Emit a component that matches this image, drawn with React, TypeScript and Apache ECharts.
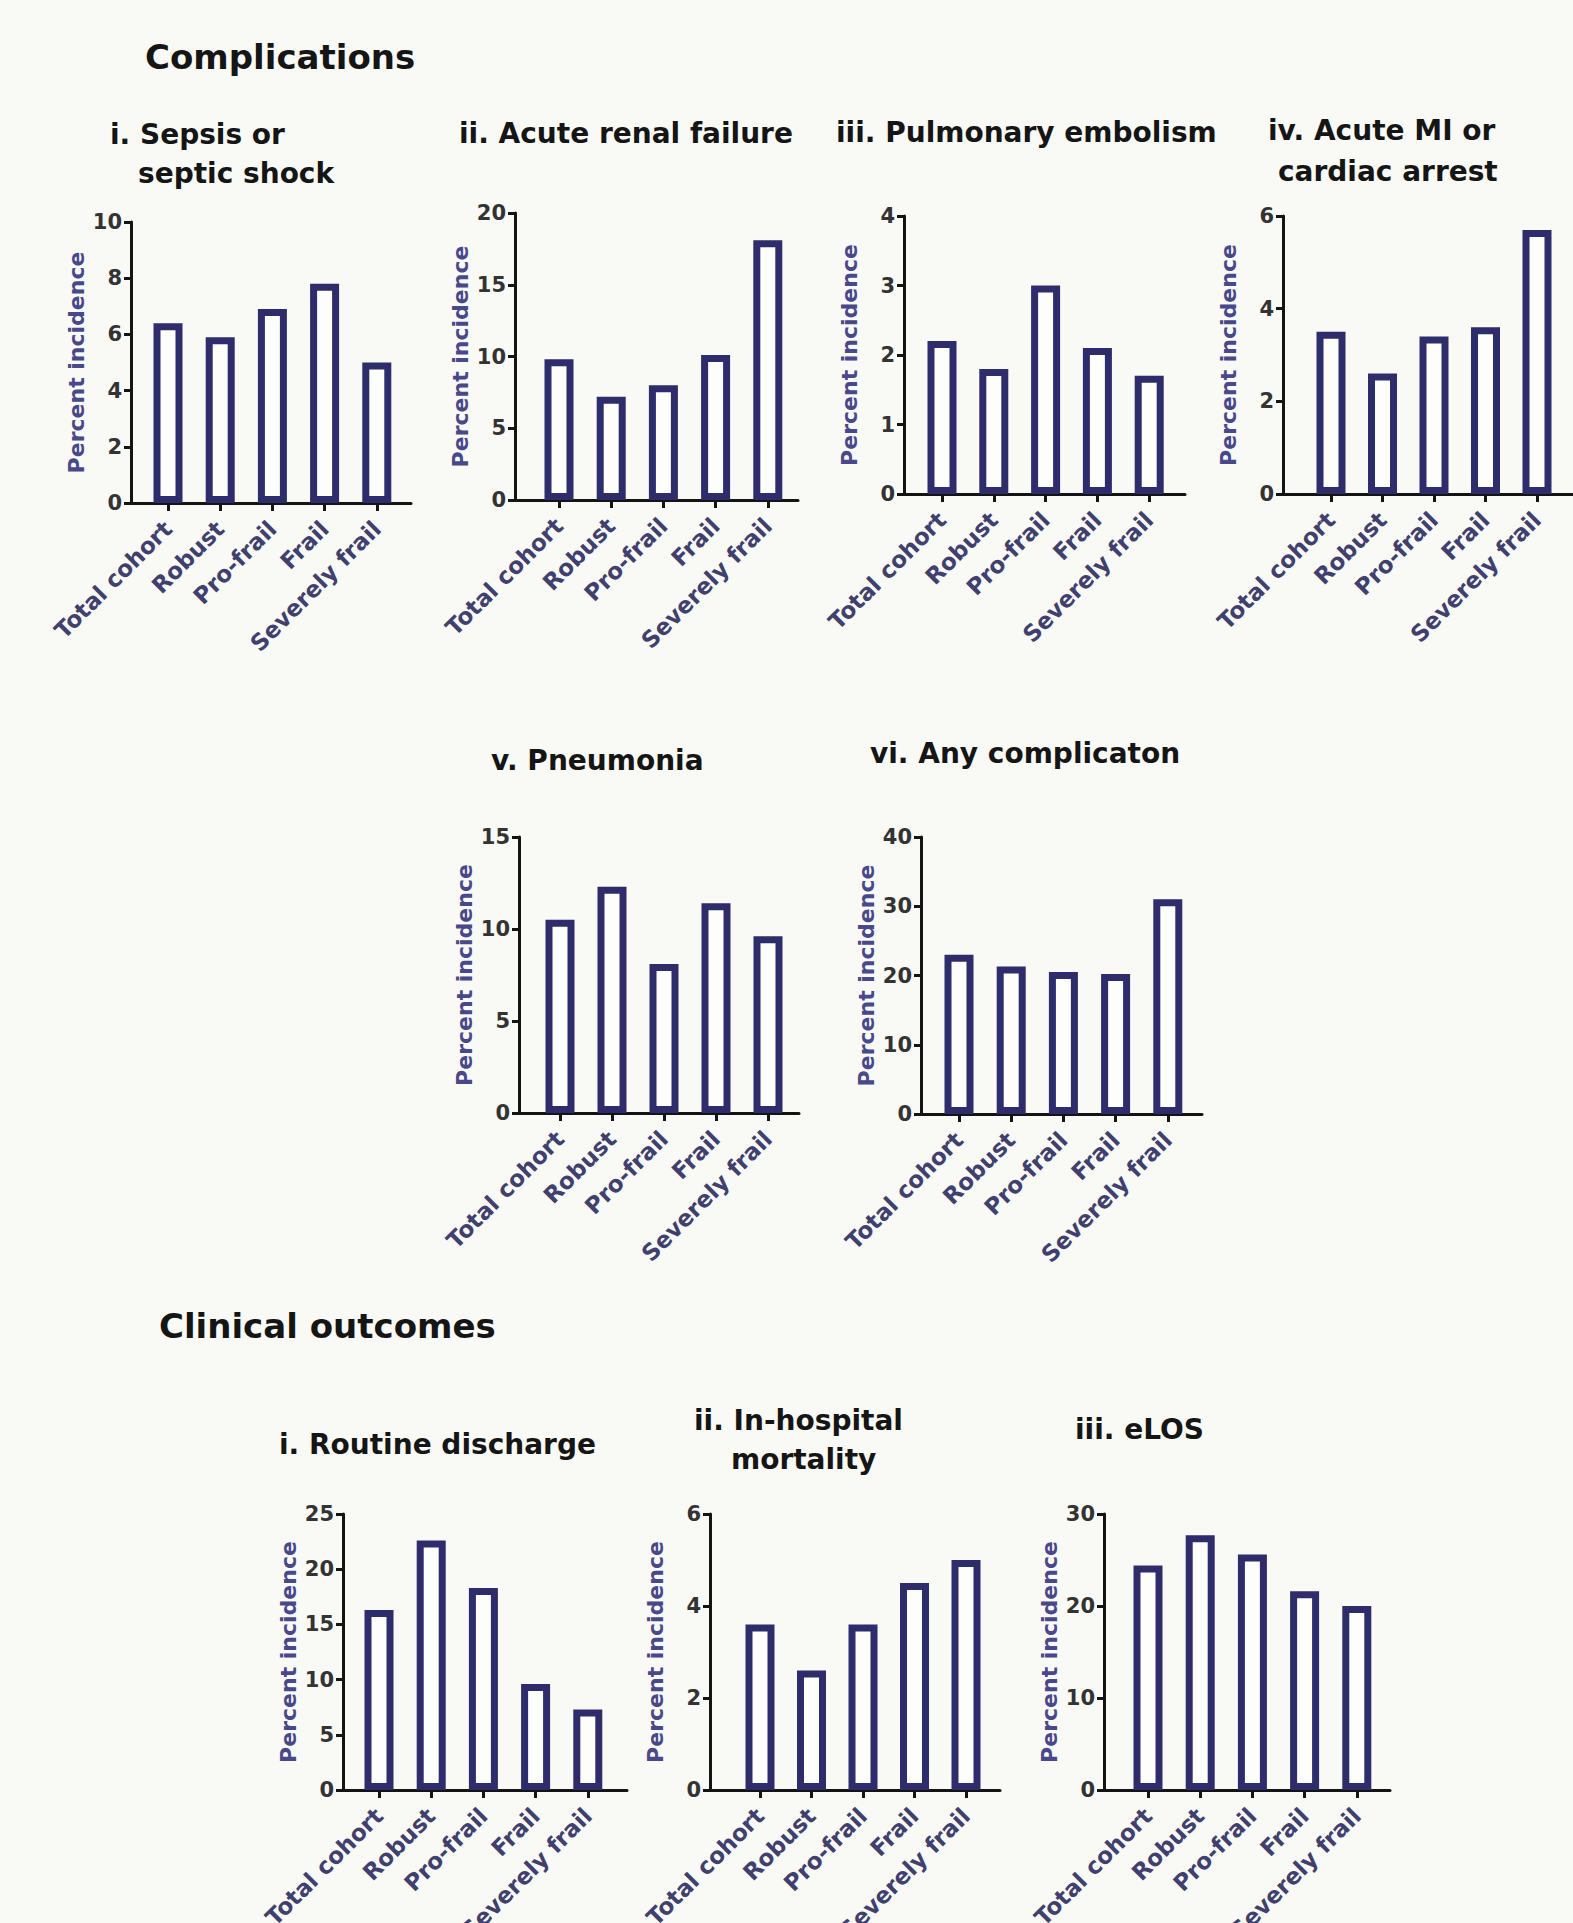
import React, { useEffect, useRef } from "react";
import * as echarts from "echarts";

// ---- data ----
const categories = ["Total cohort", "Robust", "Pro-frail", "Frail", "Severely frail"];

const sepsis = [6.4, 5.9, 6.9, 7.8, 5.0];
const renalFailure = [9.8, 7.2, 8.0, 10.1, 18.1];
const pulmonaryEmbolism = [2.2, 1.8, 3.0, 2.1, 1.7];
const acuteMI = [3.5, 2.6, 3.4, 3.6, 5.7];
const pneumonia = [10.5, 12.3, 8.1, 11.4, 9.6];
const anyComplication = [23.0, 21.3, 20.5, 20.2, 31.0];
const routineDischarge = [16.3, 22.6, 18.3, 9.6, 7.3];
const mortality = [3.6, 2.6, 3.6, 4.5, 5.0];
const elos = [24.4, 27.7, 25.6, 21.6, 20.0];

const seriesValues = [
  sepsis,
  renalFailure,
  pulmonaryEmbolism,
  acuteMI,
  pneumonia,
  anyComplication,
  routineDischarge,
  mortality,
  elos,
];

// y axis maxima and tick steps
const yMax = [10, 20, 4, 6, 15, 40, 25, 6, 30];
const yStep = [2, 5, 1, 2, 5, 10, 5, 2, 10];

const yAxisName = "Percent incidence";

const sectionTitles = ["Complications", "Clinical outcomes"];
const panelTitleLines = [
  ["i. Sepsis or", "septic shock"],
  ["ii. Acute renal failure"],
  ["iii. Pulmonary embolism"],
  ["iv. Acute MI or", "cardiac arrest"],
  ["v. Pneumonia"],
  ["vi. Any complicaton"],
  ["i. Routine discharge"],
  ["ii. In-hospital", "mortality"],
  ["iii. eLOS"],
];

// ---- layout (pixels) ----
const panelLayout = [
  { yAx: 131, top: 222, bottom: 503, xEnd: 411, t0: 168, band: 52.2 },
  { yAx: 515, top: 213, bottom: 500, xEnd: 798, t0: 559, band: 52.2 },
  { yAx: 904, top: 216, bottom: 494, xEnd: 1185, t0: 942, band: 51.8 },
  { yAx: 1283, top: 216, bottom: 494, xEnd: 1620, t0: 1331, band: 51.5 },
  { yAx: 519, top: 837, bottom: 1113, xEnd: 799, t0: 560, band: 52.0 },
  { yAx: 921, top: 837, bottom: 1114, xEnd: 1202, t0: 959, band: 52.2 },
  { yAx: 343, top: 1514, bottom: 1790, xEnd: 627, t0: 379, band: 52.2 },
  { yAx: 710, top: 1514, bottom: 1790, xEnd: 1000, t0: 760, band: 51.5 },
  { yAx: 1104, top: 1514, bottom: 1790, xEnd: 1390, t0: 1148, band: 52.2 },
];

const sectionTitlePos = [
  { x: 145, cy: 57 },
  { x: 159, cy: 1326 },
];

const panelTitlePos = [
  [{ x: 110, cy: 135 }, { x: 138, cy: 174 }],
  [{ x: 459, cy: 134 }],
  [{ x: 836, cy: 133 }],
  [{ x: 1268, cy: 131 }, { x: 1278, cy: 172 }],
  [{ x: 491, cy: 761 }],
  [{ x: 870, cy: 754 }],
  [{ x: 279, cy: 1445 }],
  [{ x: 694, cy: 1421 }, { x: 731, cy: 1460 }],
  [{ x: 1075, cy: 1430 }],
];

const FONT = "'DejaVu Sans', 'Liberation Sans', Arial, sans-serif";
const AXIS_COLOR = "#141414";
const BAR_BORDER = "#2e2c6a";
const BAR_FILL = "#fdfdfb";
const LABEL_BLUE = "#40406e";
const NAME_BLUE = "#48488a";
const BG = "#f9f9f6";

function buildOption() {
  const grid: any[] = [];
  const xAxis: any[] = [];
  const yAxis: any[] = [];
  const series: any[] = [];
  const title: any[] = [];

  const SEC_FS = 34;
  const PANEL_FS = 28;

  sectionTitles.forEach((t, i) => {
    const p = sectionTitlePos[i];
    title.push({
      text: t,
      left: p.x,
      top: p.cy - SEC_FS * 0.6,
      padding: 0,
      textStyle: { fontFamily: FONT, fontWeight: "bold", fontSize: SEC_FS, color: "#151515", lineHeight: SEC_FS * 1.2 },
    });
  });

  panelTitleLines.forEach((lines, i) => {
    lines.forEach((line, j) => {
      const p = panelTitlePos[i][j];
      title.push({
        text: line,
        left: p.x,
        top: p.cy - PANEL_FS * 0.6,
        padding: 0,
        textStyle: { fontFamily: FONT, fontWeight: "bold", fontSize: PANEL_FS, color: "#151515", lineHeight: PANEL_FS * 1.2 },
      });
    });
  });

  panelLayout.forEach((L, k) => {
    const height = L.bottom - L.top;
    const gAxis = grid.length;
    grid.push({
      left: L.yAx,
      top: L.top,
      width: L.xEnd - L.yAx,
      height,
      containLabel: false,
      outerBoundsMode: "none",
    });
    const gBars = grid.length;
    grid.push({
      left: L.t0 - L.band / 2,
      top: L.top,
      width: L.band * 5,
      height,
      containLabel: false,
      outerBoundsMode: "none",
    });

    // axis-frame grid
    xAxis.push({
      gridIndex: gAxis,
      type: "value",
      min: 0,
      max: 1,
      axisLine: { show: true, onZero: false, lineStyle: { color: AXIS_COLOR, width: 3 } },
      axisTick: { show: false },
      axisLabel: { show: false },
      splitLine: { show: false },
    });
    yAxis.push({
      gridIndex: gAxis,
      type: "value",
      min: 0,
      max: yMax[k],
      interval: yStep[k],
      axisLine: { show: true, onZero: false, lineStyle: { color: AXIS_COLOR, width: 3 } },
      axisTick: { show: true, inside: false, length: 7, lineStyle: { color: AXIS_COLOR, width: 3 } },
      axisLabel: {
        fontFamily: FONT,
        fontWeight: "bold",
        fontSize: 21,
        color: "#333333",
        margin: 9,
      },
      splitLine: { show: false },
      name: yAxisName,
      nameLocation: "middle",
      nameGap: 44,
      nameTextStyle: { fontFamily: FONT, fontWeight: "bold", fontSize: 22, color: NAME_BLUE },
    });

    // bars grid
    xAxis.push({
      gridIndex: gBars,
      type: "category",
      data: categories,
      axisLine: { show: false },
      axisTick: { show: true, alignWithLabel: true, length: 8, lineStyle: { color: AXIS_COLOR, width: 3 } },
      axisLabel: {
        interval: 0,
        rotate: 45,
        margin: 22,
        fontFamily: FONT,
        fontWeight: "bold",
        fontSize: 23,
        color: LABEL_BLUE,
      },
      splitLine: { show: false },
    });
    yAxis.push({
      gridIndex: gBars,
      type: "value",
      min: 0,
      max: yMax[k],
      show: false,
    });

    series.push({
      type: "bar",
      xAxisIndex: gBars,
      yAxisIndex: gBars,
      data: seriesValues[k],
      barWidth: 29,
      itemStyle: { color: BAR_FILL, borderColor: BAR_BORDER, borderWidth: 7 },
      z: 1,
    });
  });

  return {
    animation: false,
    backgroundColor: BG,
    title,
    grid,
    xAxis,
    yAxis,
    series,
  };
}

export default function App() {
  const ref = useRef<HTMLDivElement>(null);

  useEffect(() => {
    document.body.style.margin = "0";
    document.body.style.overflow = "hidden";
    if (!ref.current) return;
    const chart = echarts.init(ref.current, undefined, { renderer: "svg" });
    chart.setOption(buildOption() as any);
    return () => {
      chart.dispose();
    };
  }, []);

  return <div ref={ref} style={{ width: 1573, height: 1923 }} />;
}
